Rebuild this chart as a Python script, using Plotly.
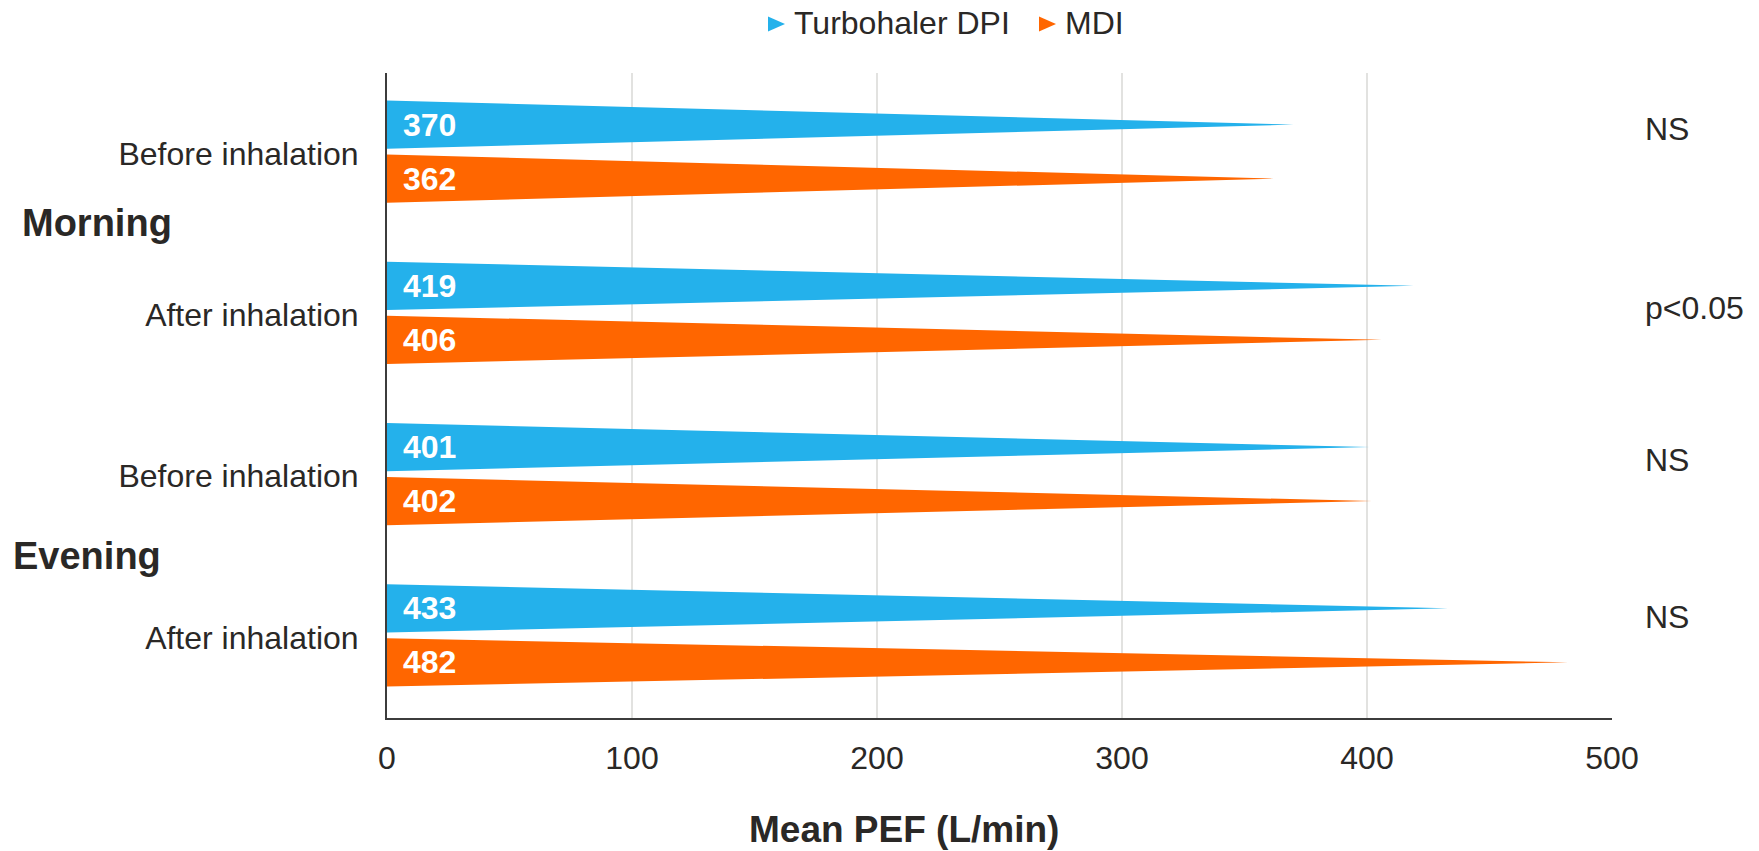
import plotly.graph_objects as go

# ---- data ----
groups = ["Morning", "Evening"]
subcats = ["Before inhalation", "After inhalation", "Before inhalation", "After inhalation"]
turbo = [370, 419, 401, 433]
mdi = [362, 406, 402, 482]
significance = ["NS", "p<0.05", "NS", "NS"]
series_names = ["Turbohaler DPI", "MDI"]
x_ticks = [0, 100, 200, 300, 400, 500]

BLUE = "#24B1EB"
ORANGE = "#FF6600"
TXT = "#2a2826"
FONT = "Liberation Sans, Arial, sans-serif"

W, H = 1759, 851
ML, MR, MT, MB = 387, 147, 73, 133
PW, PH = W - ML - MR, H - MT - MB


def px_x(p):
    return (p - ML) / PW


def px_y(p):
    return (H - MB - p) / PH


# band offsets (in category units, axis reversed so negative = up)
bands = {"Turbohaler DPI": (-0.33, -0.03), "MDI": (0.005, 0.305)}
sig_offsets = [-0.15, -0.04, -0.1, -0.125]
group_pos = [0.43, 2.495]
group_shift = [-367, -376]

fig = go.Figure()

colors = {"Turbohaler DPI": BLUE, "MDI": ORANGE}
for name, vals in [("Turbohaler DPI", turbo), ("MDI", mdi)]:
    col = colors[name]
    y0, y1 = bands[name]
    yc = (y0 + y1) / 2
    xs, ys = [], []
    for i, v in enumerate(vals):
        xs += [0, v, 0, 0, None]
        ys += [i + y0, i + yc, i + y1, i + y0, None]
    fig.add_trace(go.Scatter(x=xs, y=ys, mode="lines", fill="toself", fillcolor=col,
                             line=dict(width=0, color=col), showlegend=False,
                             name=name, hoverinfo="skip"))
    for i, v in enumerate(vals):
        fig.add_annotation(x=0, y=i + yc, xref="x", yref="y", text=f"<b>{v}</b>",
                           showarrow=False, xanchor="left", yanchor="middle", xshift=14,
                           font=dict(family=FONT, size=32, color="white"))

# manual legend (triangle glyph + label)
legend_items = [("Turbohaler DPI", 768), ("MDI", 1039)]
for name, lx in legend_items:
    col = colors[name]
    fig.add_shape(type="path", xref="paper", yref="paper",
                  path=f"M {px_x(lx)} {px_y(16.5)} L {px_x(lx + 17)} {px_y(24)} L {px_x(lx)} {px_y(31.5)} Z",
                  fillcolor=col, line=dict(width=0))
    fig.add_annotation(x=px_x(lx + 24), y=px_y(23), xref="paper", yref="paper",
                       text=name, showarrow=False, xanchor="left", yanchor="middle",
                       font=dict(family=FONT, size=32, color=TXT))

for i, s in enumerate(significance):
    fig.add_annotation(x=1, xref="paper", xshift=31, y=i + sig_offsets[i], yref="y",
                       text=s, showarrow=False, xanchor="left", yanchor="middle",
                       font=dict(family=FONT, size=32, color=TXT))

for g, p, sh in zip(groups, group_pos, group_shift):
    fig.add_annotation(x=0, xref="paper", xshift=sh, y=p, yref="y",
                       text=f"<b>{g}</b>", showarrow=False, xanchor="left", yanchor="middle",
                       font=dict(family=FONT, size=38, color=TXT))

fig.add_annotation(x=0.422, xref="paper", y=-0.1736, yref="paper",
                   text="<b>Mean PEF (L/min)</b>", showarrow=False,
                   xanchor="center", yanchor="middle",
                   font=dict(family=FONT, size=37, color=TXT))

fig.update_layout(
    width=W, height=H,
    margin=dict(l=ML, r=MR, t=MT, b=MB),
    paper_bgcolor="white", plot_bgcolor="white",
    font=dict(family=FONT, size=32, color=TXT),
    showlegend=False,
    xaxis=dict(range=[0, 500], tickvals=x_ticks, showgrid=True, gridcolor="#e2e2e0",
               gridwidth=1.5, zeroline=False, showline=True, linecolor="#3c3c3c",
               linewidth=2, ticks="", ticklabelstandoff=11,
               tickfont=dict(family=FONT, size=32, color=TXT)),
    yaxis=dict(range=[3.5, -0.5], tickvals=list(range(len(subcats))), ticktext=subcats,
               showgrid=False, zeroline=False, showline=True, linecolor="#3c3c3c",
               linewidth=2, ticks="", ticklabelstandoff=20,
               tickfont=dict(family=FONT, size=32, color=TXT)),
)

fig.write_html("out.html")
